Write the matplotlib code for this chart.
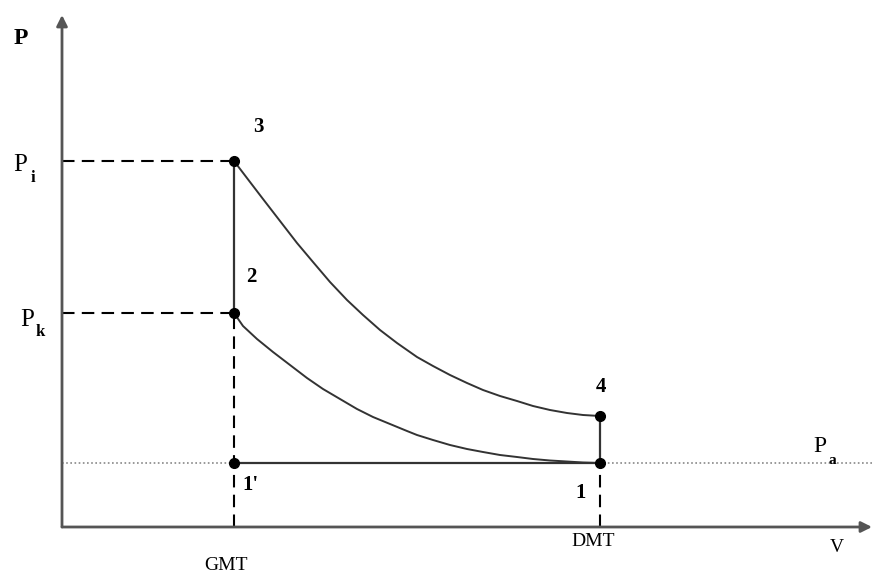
import numpy as np
import matplotlib.pyplot as plt

# cycle state points (V, P) in arbitrary units
V_gmt = 1.72
V_dmt = 5.38
P_a = 0.64
P_k = 2.14
P_i = 3.66
P_4 = 1.11

# expansion 3 -> 4
exp_V = [1.72, 1.88, 2.01, 2.18, 2.35, 2.51, 2.68, 2.85, 3.01, 3.18, 3.35, 3.55,
         3.71, 3.88, 4.05, 4.21, 4.38, 4.55, 4.71, 4.88, 5.05, 5.21, 5.38]
exp_P = [3.66, 3.45, 3.28, 3.06, 2.84, 2.65, 2.45, 2.27, 2.12, 1.97, 1.84, 1.70,
         1.61, 1.52, 1.44, 1.37, 1.31, 1.26, 1.21, 1.17, 1.14, 1.12, 1.11]

# compression 1 -> 2 (listed from 2 to 1)
comp_V = [1.72, 1.81, 1.95, 2.11, 2.28, 2.45, 2.61, 2.78, 2.95, 3.11, 3.28, 3.45,
          3.55, 3.71, 3.88, 4.05, 4.21, 4.38, 4.55, 4.71, 4.88, 5.05, 5.21, 5.38]
comp_P = [2.14, 2.01, 1.88, 1.75, 1.62, 1.49, 1.38, 1.28, 1.18, 1.10, 1.03, 0.96,
          0.92, 0.87, 0.82, 0.78, 0.75, 0.72, 0.70, 0.68, 0.665, 0.655, 0.645, 0.64]

V_max = 8.10
P_max = 5.12

serif = "Liberation Serif"
curve_c = "#333333"

fig = plt.figure(figsize=(8.74, 5.76), dpi=100)
ax = fig.add_axes([0, 0, 1, 1])
ax.set_xlim(-0.62, 8.12)
ax.set_ylim(-0.49, 5.27)
ax.axis("off")

# axes with arrows
arr = dict(arrowstyle="-|>", color="#555555", lw=2, mutation_scale=16, shrinkA=0, shrinkB=0)
ax.annotate("", xy=(V_max, 0), xytext=(0, 0), arrowprops=arr)
ax.annotate("", xy=(0, P_max), xytext=(0, 0), arrowprops=arr)

# atmospheric pressure dotted line
ax.plot([0, V_max], [P_a, P_a], color="#888888", lw=1.2, ls=(0, (1, 1.5)))

# dashed guides
dash = dict(color="black", lw=1.5, ls=(0, (6, 3.5)))
ax.plot([0, V_gmt], [P_i, P_i], **dash)
ax.plot([0, V_gmt], [P_k, P_k], **dash)
ax.plot([V_gmt, V_gmt], [0, P_k], **dash)
ax.plot([V_dmt, V_dmt], [0, P_a], **dash)

# cycle
ax.plot(exp_V, exp_P, color=curve_c, lw=1.4, solid_joinstyle="round")
ax.plot(comp_V, comp_P, color=curve_c, lw=1.4, solid_joinstyle="round")
ax.plot([V_gmt, V_gmt], [P_k, P_i], color=curve_c, lw=1.6)
ax.plot([V_gmt, V_dmt], [P_a, P_a], color=curve_c, lw=1.6)
ax.plot([V_dmt, V_dmt], [P_a, P_4], color=curve_c, lw=1.6)

ax.plot([V_gmt, V_gmt, V_gmt, V_dmt, V_dmt], [P_i, P_k, P_a, P_a, P_4],
        "o", color="black", ms=7, zorder=5)

# labels
kw = dict(family=serif, ha="center", va="center")
ax.text(-0.41, 4.89, "P", fontsize=17, fontweight="bold", **kw)
ax.text(1.96, 4.00, "3", fontsize=15, fontweight="bold", **kw)
ax.text(1.89, 2.50, "2", fontsize=15, fontweight="bold", **kw)
ax.text(5.39, 1.40, "4", fontsize=15, fontweight="bold", **kw)
ax.text(5.19, 0.34, "1", fontsize=15, fontweight="bold", **kw)
ax.text(1.88, 0.42, "1'", fontsize=15, fontweight="bold", **kw)

ax.text(-0.42, 3.62, "P", fontsize=18, **kw)
ax.text(-0.29, 3.49, "i", fontsize=12, fontweight="bold", **kw)
ax.text(-0.35, 2.07, "P", fontsize=18, **kw)
ax.text(-0.22, 1.95, "k", fontsize=12, fontweight="bold", **kw)
ax.text(7.58, 0.81, "P", fontsize=17, **kw)
ax.text(7.70, 0.67, "a", fontsize=11, fontweight="bold", **kw)

ax.text(1.64, -0.38, "GMT", fontsize=14, **kw)
ax.text(5.31, -0.14, "DMT", fontsize=14, **kw)
ax.text(7.75, -0.21, "V", fontsize=14, **kw)

fig.savefig("out.png", dpi=100)
